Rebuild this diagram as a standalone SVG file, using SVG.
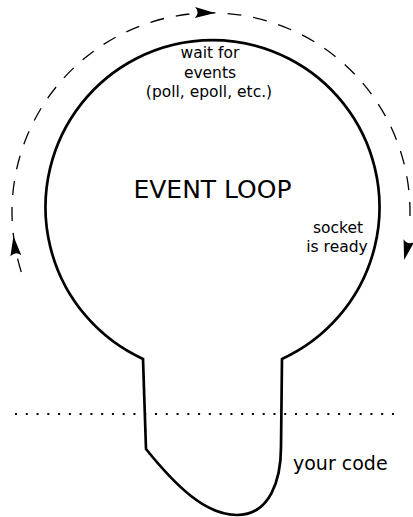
<svg xmlns="http://www.w3.org/2000/svg" width="413" height="517" viewBox="0 0 413 517">
  <style>
    .t { font-family: "DejaVu Sans", "Liberation Sans", sans-serif; fill: #000; text-anchor: middle; }
    .body { fill: none; stroke: #000; stroke-width: 2.7; stroke-linejoin: miter; }
    .loop { fill: none; stroke: #000; stroke-width: 1.3; stroke-dasharray: 14 12; }
    .dots { fill: none; stroke: #000; stroke-width: 2; stroke-dasharray: 2 8.77; }
    .head { fill: #000; stroke: none; }
  </style>
  <defs>
    <path id="arrowhead" d="M0,0 L-20,-5.5 Q-15,0 -20,5.5 Z"/>
  </defs>
  <g id="event-loop">
    <path class="body" d="M282,359 A167,167 0 1 0 143,359 L146,449 C175,485 205,515 237,515 C270,515 281,480 281,447 Z"/>
    <text class="t" x="212.5" y="198" font-size="25">EVENT LOOP</text>
  </g>
  <g id="wait-label">
    <text class="t" x="210" y="58" font-size="15.5">wait for</text>
    <text class="t" x="210" y="78" font-size="15.5">events</text>
    <text class="t" x="209" y="97" font-size="15.5">(poll, epoll, etc.)</text>
  </g>
  <g id="socket-label">
    <text class="t" x="338" y="233" font-size="15.5">socket</text>
    <text class="t" x="337" y="252" font-size="15.5">is ready</text>
  </g>
  <g id="your-code">
    <text x="293" y="470" font-size="19" font-family="DejaVu Sans, Liberation Sans, sans-serif" fill="#000">your code</text>
  </g>
  <g id="connectors">
    <path class="loop" d="M21.3,272 A199,199 0 1 1 409.5,226"/>
    <use href="#arrowhead" class="head" transform="translate(13.45,236) rotate(-96.93)"/>
    <use href="#arrowhead" class="head" transform="translate(215,13) rotate(1.15)"/>
    <use href="#arrowhead" class="head" transform="translate(404.1,260) rotate(103.96)"/>
    <line class="dots" x1="15" y1="414" x2="396" y2="414"/>
  </g>
</svg>
